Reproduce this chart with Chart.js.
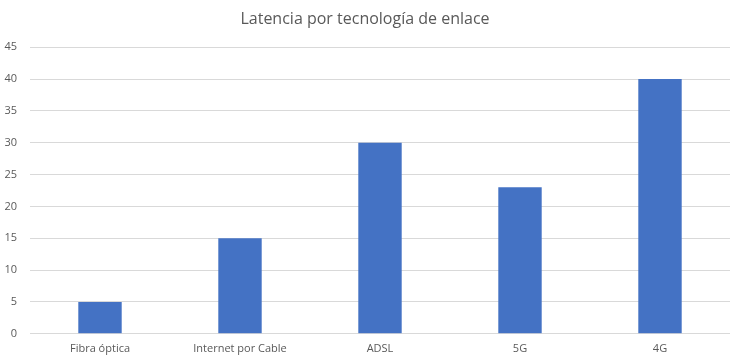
<!DOCTYPE html>
<html>
<head>
<meta charset="utf-8">
<script src="https://cdn.jsdelivr.net/npm/chart.js@4.4.1/dist/chart.umd.min.js"></script>
<style>
  html, body { margin: 0; padding: 0; background: #fff; }
  #wrap { width: 743px; height: 362px; }
</style>
</head>
<body>
<div id="wrap"><canvas id="chartLatencia"></canvas></div>
<script>
/* =====================
   DATA
===================== */
const categorias = ["Fibra óptica", "Internet por Cable", "ADSL", "5G", "4G"];
const latencia = [5, 15, 30, 23, 40];
const yMin = 0;
const yMax = 45;
const yStep = 5;

const gris = "#595959";

new Chart(document.getElementById("chartLatencia"), {
  type: "bar",
  data: {
    labels: categorias,
    datasets: [{
      label: "Latencia",
      data: latencia,
      backgroundColor: "#4472C4",
      borderWidth: 0,
      categoryPercentage: 1,
      barPercentage: 0.31
    }]
  },
  options: {
    responsive: true,
    maintainAspectRatio: false,
    animation: false,
    layout: { padding: { left: 0, right: 13, top: 10, bottom: 7 } },
    plugins: {
      legend: { display: false },
      tooltip: { enabled: false },
      title: {
        display: true,
        text: "Latencia por tecnología de enlace",
        color: gris,
        font: { family: "Open Sans", size: 16, weight: "normal" },
        padding: { top: 0, bottom: 18 }
      }
    },
    scales: {
      x: {
        grid: { display: false },
        border: { display: false },
        ticks: {
          color: gris,
          font: { family: "Open Sans", size: 11 },
          padding: 0,
          maxRotation: 0
        }
      },
      y: {
        min: yMin,
        max: yMax,
        afterFit: s => { s.width = 30; },
        grid: { color: "#d9d9d9", drawTicks: false, lineWidth: 1 },
        border: { display: false },
        ticks: {
          stepSize: yStep,
          color: gris,
          font: { family: "Open Sans", size: 11 },
          padding: 13
        }
      }
    }
  }
});
</script>
</body>
</html>
